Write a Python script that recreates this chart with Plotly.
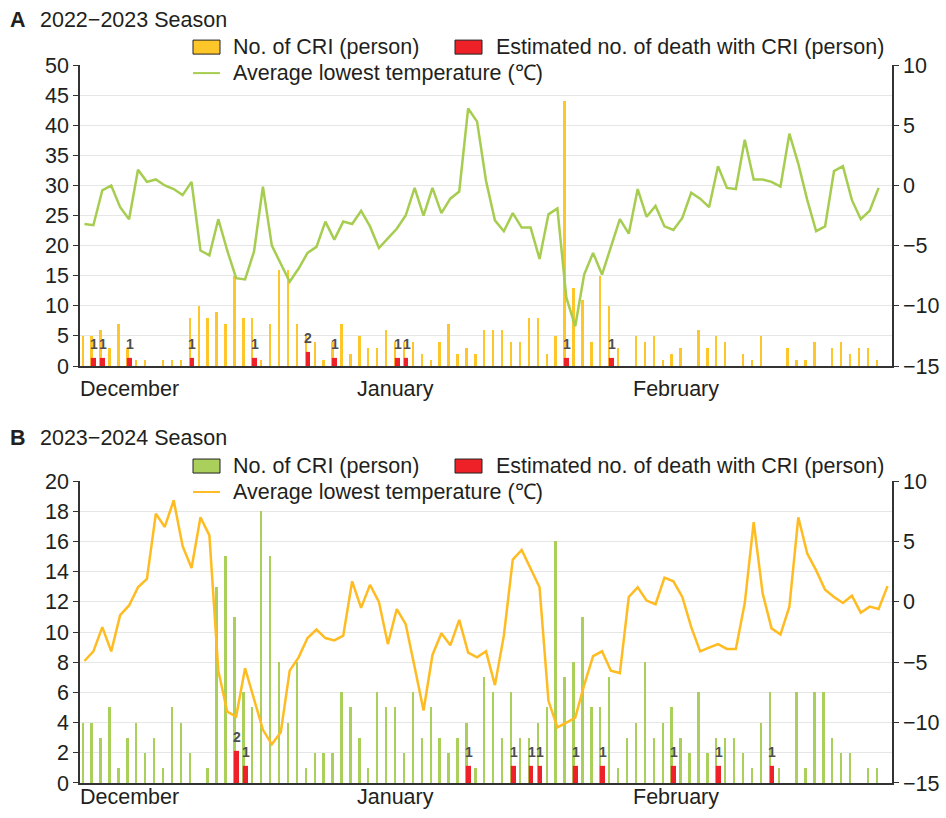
import plotly.graph_objects as go

# ---------------- data ----------------
MONTH_LABELS = ["December", "January", "February"]
MONTH_START = [0, 31, 62]  # day index of month start

# Panel A: 2022-2023 season (Dec 1 - Feb 28)
cri_a = [5, 5, 6, 3, 7, 3, 1, 1, 0, 1, 1, 1, 8, 10, 8, 9, 7, 15, 8, 8, 1, 7, 16, 16, 7, 5, 4, 1, 4, 7, 2, 5,
         3, 3, 6, 4, 4, 4, 2, 1, 4, 7, 2, 3, 2, 6, 6, 6, 4, 4, 8, 8, 2, 5, 44, 13, 11, 4, 15, 10, 3, 0, 5,
         4, 5, 1, 2, 3, 0, 6, 3, 5, 4, 0, 2, 1, 5, 0, 0, 3, 1, 1, 4, 0, 3, 4, 2, 3, 3, 1]
temp_a = [-3.2, -3.3, -0.4, 0.0, -1.8, -2.8, 1.3, 0.3, 0.5, 0.0, -0.3, -0.8, 0.3, -5.4, -5.8, -2.8,
          -5.4, -7.7, -7.8, -5.5, -0.1, -5.0, -6.5, -8.0, -6.9, -5.6, -5.1, -3.0, -4.5, -3.0, -3.2, -2.1,
          -3.4, -5.2, -4.4, -3.6, -2.5, -0.2, -2.5, -0.2, -2.3, -1.1, -0.5, 6.4, 5.3, 0.4, -2.9, -3.8,
          -2.3, -3.5, -3.5, -6.1, -2.4, -1.9, -9.3, -11.7, -7.4, -5.6, -7.4, -5.0, -2.8, -4.0, -0.3,
          -2.6, -1.7, -3.4, -3.7, -2.7, -0.6, -1.1, -1.8, 1.6, -0.2, -0.3, 3.8, 0.5, 0.5, 0.3, -0.1,
          4.3, 1.8, -1.2, -3.8, -3.4, 1.2, 1.6, -1.2, -2.8, -2.1, -0.2]
death_a_day = [1, 2, 5, 12, 19, 25, 28, 35, 36, 54, 59]
death_a = [1, 1, 1, 1, 1, 2, 1, 1, 1, 1, 1]

# Panel B: 2023-2024 season (Dec 1 - Feb 29)
cri_b = [4, 4, 3, 5, 1, 3, 4, 2, 3, 1, 5, 4, 2, 0, 1, 13, 15, 11, 6, 5, 18, 15, 8, 4, 8, 1, 2, 2, 2, 6, 5, 3,
         1, 6, 5, 5, 2, 6, 3, 5, 3, 2, 3, 4, 1, 7, 6, 3, 6, 3, 3, 4, 5, 16, 7, 8, 11, 5, 5, 7, 1, 3, 4,
         8, 3, 4, 5, 3, 2, 6, 2, 3, 3, 3, 2, 1, 4, 6, 1, 0, 6, 1, 6, 6, 3, 2, 2, 0, 1, 1, 0]
temp_b = [-4.9, -4.1, -2.1, -4.1, -1.1, -0.3, 1.2, 1.9, 7.3, 6.2, 8.4, 4.6, 2.8, 7.0, 5.5, -5.7,
          -9.1, -9.5, -5.5, -8.1, -10.6, -11.8, -10.8, -5.7, -4.6, -3.0, -2.3, -3.0, -3.2, -2.8, 1.7, -0.5,
          1.4, 0.0, -3.5, -0.6, -1.85, -5.4, -9.0, -4.4, -2.6, -3.6, -1.5, -4.2, -4.6, -4.1, -6.9, -2.8,
          3.5, 4.3, 2.8, 1.2, -8.2, -10.4, -10.0, -9.6, -6.9, -4.5, -4.1, -5.7, -5.9, 0.4, 1.2,
          0.1, -0.2, 2.0, 1.7, 0.4, -2.1, -4.1, -3.8, -3.5, -3.9, -3.9, -0.1, 6.6, 0.7, -2.2, -2.7,
          -0.4, 7.0, 4.0, 2.6, 1.0, 0.4, -0.1, 0.5, -0.9, -0.4, -0.6, 1.3]
death_b_day = [17, 18, 43, 48, 50, 51, 55, 58, 66, 71, 77]
death_b = [2, 1, 1, 1, 1, 1, 1, 1, 1, 1, 1]

SEASONS = ["2022\u22122023 Season", "2023\u22122024 Season"]
PANELS = ["A", "B"]
LEG_CRI = "No. of CRI (person)"
LEG_DEATH = "Estimated no. of death with CRI (person)"
LEG_TEMP = "Average lowest temperature (\u2103)"

# ---------------- styles ----------------
W, H = 946, 818
# vertical calibration (observed: photo_y = OY + SY * page_y)
OY, SY = 10.9, 0.9708
FONT = "Liberation Sans, Arial, Helvetica, sans-serif"
FS = 21.5
YELLOW = "#FFC629"
GREEN_BAR = "#AACF5A"
GREEN_LINE = "#A6CD50"
ORANGE_LINE = "#FFBC22"
RED = "#EE2129"
AX = "#333333"
GRID = "#E6E6E6"
TXT = "#231F20"


def PX(x):
    return x / W


def FY(y):
    """target photo y (px) -> page y (px)"""
    return (y - OY) / SY


def PY(y):
    return max(0.0, min(1.0, 1 - FY(y) / H))


fig = go.Figure()

panels = [
    dict(cri=cri_a, temp=temp_a, dday=death_a_day, dval=death_a, barc=YELLOW, linec=GREEN_LINE,
         xa="x", ya="y", ya2="y2", top=65, bot=366, ymax=50, dt=5, title_y=20, leg_y=47, mon_y=389),
    dict(cri=cri_b, temp=temp_b, dday=death_b_day, dval=death_b, barc=GREEN_BAR, linec=ORANGE_LINE,
         xa="x2", ya="y3", ya2="y4", top=481, bot=783, ymax=20, dt=2, title_y=438, leg_y=466, mon_y=797),
]

shapes = []
annotations = []
layout_axes = {}

for k, p in enumerate(panels):
    n = len(p["cri"])
    days = list(range(n))
    fig.add_trace(go.Bar(x=days, y=p["cri"], xaxis=p["xa"], yaxis=p["ya"], width=0.27, offset=-0.33,
                         marker=dict(color=p["barc"], line=dict(width=0)), showlegend=False,
                         name=LEG_CRI))
    fig.add_trace(go.Bar(x=p["dday"], y=p["dval"], xaxis=p["xa"], yaxis=p["ya"], width=0.2, offset=0.0,
                         marker=dict(color=RED, line=dict(color=RED, width=3.2)), showlegend=False,
                         name=LEG_DEATH))
    fig.add_trace(go.Scatter(x=list(range(len(p["temp"]))), y=p["temp"], xaxis=p["xa"], yaxis=p["ya2"],
                             mode="lines", line=dict(color=p["linec"], width=2.5), showlegend=False,
                             name=LEG_TEMP))
    # death value labels
    for d, v in zip(p["dday"], p["dval"]):
        annotations.append(dict(x=d + 0.1, y=v, xref=p["xa"], yref=p["ya"], text="<b>%d</b>" % v,
                                showarrow=False, xanchor="center", yanchor="bottom", yshift=6,
                                font=dict(size=14, color="#4D4D4D", family=FONT)))

    dom_y = [PY(p["bot"]), PY(p["top"])]
    xkey = "xaxis" if k == 0 else "xaxis2"
    ykey = "yaxis" if k == 0 else "yaxis3"
    y2key = "yaxis2" if k == 0 else "yaxis4"
    layout_axes[xkey] = dict(domain=[PX(80), PX(892)], anchor=p["ya"], range=[-0.5, 90.5],
                             showticklabels=False, ticks="", showgrid=False, zeroline=False,
                             showline=True, linecolor=AX, linewidth=1.5)
    layout_axes[ykey] = dict(domain=dom_y, anchor=p["xa"], range=[0, p["ymax"]], dtick=p["dt"],
                             tick0=0, ticks="outside", ticklen=5, tickcolor=AX, showline=True,
                             linecolor=AX, linewidth=1.5, showgrid=True, gridcolor=GRID, gridwidth=1,
                             zeroline=False, tickfont=dict(size=FS, color=TXT, family=FONT))
    layout_axes[y2key] = dict(domain=dom_y, anchor=p["xa"], overlaying=p["ya"], side="right",
                              range=[-15, 10], dtick=5, tick0=-15, ticks="outside", ticklen=5,
                              tickcolor=AX, showline=True, linecolor=AX, linewidth=1.5,
                              showgrid=False, zeroline=False,
                              tickfont=dict(size=FS, color=TXT, family=FONT))

    # month labels
    for lab, st in zip(MONTH_LABELS, MONTH_START):
        annotations.append(dict(x=st - 0.5, y=PY(p["mon_y"]), xref=p["xa"], yref="paper",
                                text=lab, showarrow=False, xanchor="left", yanchor="middle",
                                xshift=-2, font=dict(size=FS, color=TXT, family=FONT)))
    # panel title
    annotations.append(dict(x=PX(8), y=PY(p["title_y"]), xref="paper", yref="paper",
                            text="<b>" + PANELS[k] + "</b>", showarrow=False, xanchor="left",
                            yanchor="middle", font=dict(size=FS, color=TXT, family=FONT)))
    annotations.append(dict(x=PX(38), y=PY(p["title_y"]), xref="paper", yref="paper",
                            text=SEASONS[k], showarrow=False, xanchor="left", yanchor="middle",
                            font=dict(size=FS, color=TXT, family=FONT)))
    # legend (drawn)
    ly = p["leg_y"]
    shapes.append(dict(type="rect", xref="paper", yref="paper", x0=PX(193), x1=PX(220),
                       y0=PY(ly + 7), y1=PY(ly - 7), fillcolor=p["barc"],
                       line=dict(color="#222", width=1)))
    shapes.append(dict(type="rect", xref="paper", yref="paper", x0=PX(455), x1=PX(482),
                       y0=PY(ly + 7), y1=PY(ly - 7), fillcolor=RED, line=dict(color="#222", width=1)))
    shapes.append(dict(type="line", xref="paper", yref="paper", x0=PX(193), x1=PX(220),
                       y0=PY(ly + 26), y1=PY(ly + 26), line=dict(color=p["linec"], width=2)))
    for tx, xx, yy in [(LEG_CRI, 231, ly), (LEG_DEATH, 494, ly), (LEG_TEMP, 231, ly + 26)]:
        annotations.append(dict(x=PX(xx), y=PY(yy), xref="paper", yref="paper", text=tx,
                                showarrow=False, xanchor="left", yanchor="middle",
                                font=dict(size=FS, color=TXT, family=FONT)))

fig.update_layout(
    autosize=True,
    margin=dict(l=0, r=0, t=0, b=0, pad=0),
    paper_bgcolor="white", plot_bgcolor="white",
    barmode="overlay", bargap=0,
    showlegend=False,
    font=dict(family=FONT, color=TXT),
    shapes=shapes, annotations=annotations,
    **layout_axes,
)

fig.write_html(
    "out.html",
    config={"displayModeBar": False, "responsive": True},
    default_width="100vw",
    default_height="100vh",
    post_script="document.body.style.margin='0px';document.body.style.padding='0px';"
                "document.body.style.overflow='hidden';"
                "document.documentElement.style.overflow='hidden';",
)
